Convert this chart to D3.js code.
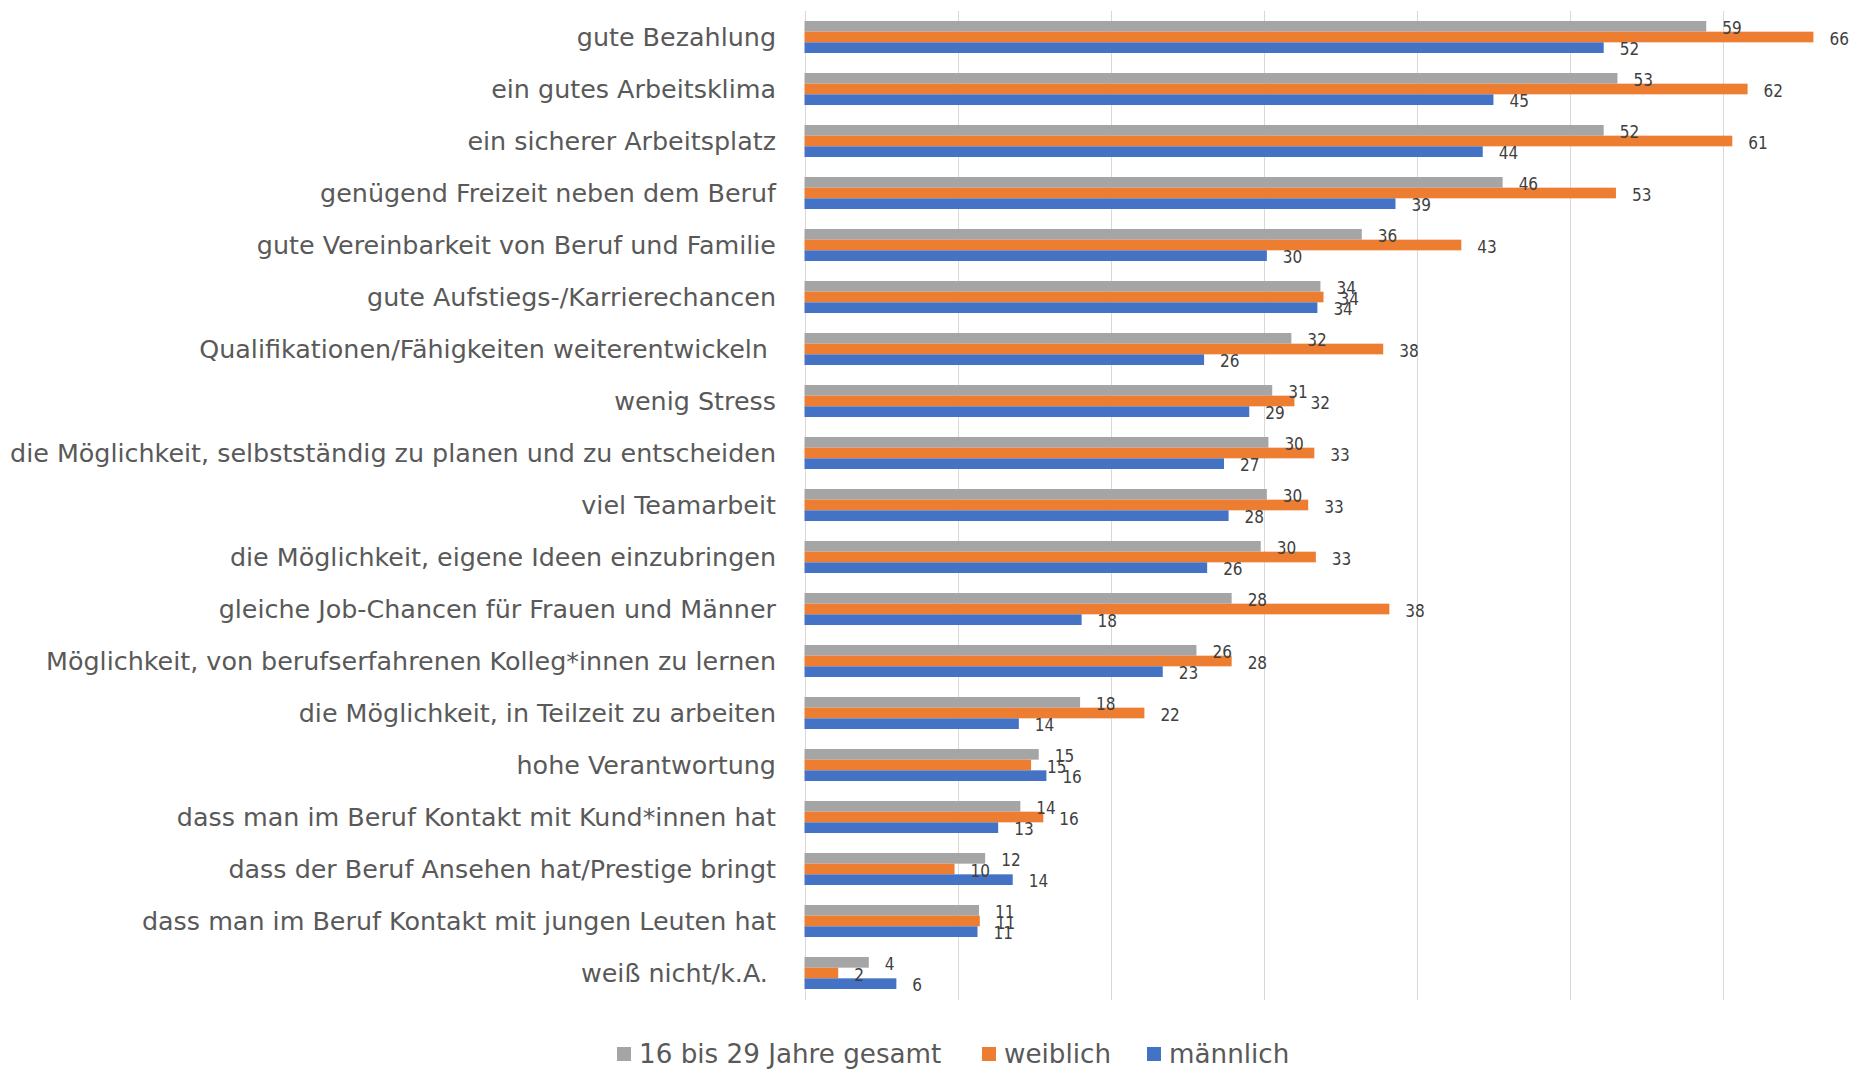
<!DOCTYPE html>
<html lang="de">
<head>
<meta charset="utf-8">
<title>Wichtige Aspekte im Beruf</title>
<style>
  body {margin: 0; background: #fff;}
  svg  {display: block;}
  .cat   {font-family: "DejaVu Sans", sans-serif; font-size: 25.4px; fill: #595959; white-space: pre;}
  .val   {font-family: "DejaVu Sans Condensed", "DejaVu Sans", sans-serif; font-size: 17px; fill: #404040;}
  .leg   {font-family: "DejaVu Sans", sans-serif; font-size: 26.2px; fill: #595959;}
  .grid line {stroke: #d9d9d9; stroke-width: 1;}
</style>
</head>
<body>
<svg id="chart" width="1870" height="1069"></svg>

<script src="https://d3js.org/d3.v7.min.js"></script>
<script>
// categories, top to bottom
const categories = [
  "gute Bezahlung",
  "ein gutes Arbeitsklima",
  "ein sicherer Arbeitsplatz",
  "genügend Freizeit neben dem Beruf",
  "gute Vereinbarkeit von Beruf und Familie",
  "gute Aufstiegs-/Karrierechancen",
  "Qualifikationen/Fähigkeiten weiterentwickeln ",
  "wenig Stress",
  "die Möglichkeit, selbstständig zu planen und zu entscheiden",
  "viel Teamarbeit",
  "die Möglichkeit, eigene Ideen einzubringen",
  "gleiche Job-Chancen für Frauen und Männer",
  "Möglichkeit, von berufserfahrenen Kolleg*innen zu lernen",
  "die Möglichkeit, in Teilzeit zu arbeiten",
  "hohe Verantwortung",
  "dass man im Beruf Kontakt mit Kund*innen hat",
  "dass der Beruf Ansehen hat/Prestige bringt",
  "dass man im Beruf Kontakt mit jungen Leuten hat",
  "weiß nicht/k.A. "
];

const seriesNames = ["16 bis 29 Jahre gesamt", "weiblich", "männlich"];
const seriesColors = ["#a5a5a5", "#ed7d31", "#4472c4"];

// percent values (labels are rounded)
const gesamt    = [58.9, 53.1, 52.2, 45.6, 36.4, 33.7, 31.8, 30.55, 30.3, 30.2, 29.8, 27.9, 25.6, 18.0, 15.3, 14.1, 11.8, 11.4, 4.2];
const weiblich  = [65.9, 61.6, 60.6, 53.0, 42.9, 33.9, 37.8, 32.0, 33.3, 32.9, 33.4, 38.2, 27.9, 22.2, 14.8, 15.6, 9.8, 11.45, 2.2];
const maennlich = [52.2, 45.0, 44.3, 38.6, 30.2, 33.5, 26.1, 29.05, 27.4, 27.7, 26.3, 18.1, 23.4, 14.0, 15.8, 12.65, 13.6, 11.3, 6.0];

const gridTicks = [0, 10, 20, 30, 40, 50, 60];

const series = [gesamt, weiblich, maennlich];

const svg = d3.select("#chart");

const x = d3.scaleLinear().domain([0, 70]).range([804.5, 804.5 + 70 * 15.31]);
const y = d3.scaleBand().domain(categories).range([11, 999]);
const yInner = d3.scaleBand().domain(d3.range(3)).range([10, y.bandwidth() - 10]);

// gridlines
svg.append("g").attr("class", "grid")
  .selectAll("line")
  .data(gridTicks)
  .join("line")
    .attr("x1", d => Math.round(x(d)) + 0.5)
    .attr("x2", d => Math.round(x(d)) + 0.5)
    .attr("y1", 11)
    .attr("y2", 1000);

// bars
const rows = svg.append("g")
  .selectAll("g")
  .data(categories)
  .join("g")
    .attr("transform", d => `translate(0,${y(d)})`);

rows.selectAll("rect")
  .data((d, i) => series.map((s, k) => ({k, v: s[i]})))
  .join("rect")
    .attr("x", x(0))
    .attr("y", d => yInner(d.k))
    .attr("width", d => x(d.v) - x(0))
    .attr("height", yInner.bandwidth())
    .attr("fill", d => seriesColors[d.k]);

rows.selectAll("text.val")
  .data((d, i) => series.map((s, k) => ({k, v: s[i]})))
  .join("text")
    .attr("class", "val")
    .attr("x", d => x(d.v) + 16)
    .attr("y", d => yInner(d.k) + yInner.bandwidth() / 2 + 1.5)
    .attr("dy", "0.36em")
    .text(d => d3.format(".0f")(d.v));

// category labels
svg.append("g")
  .selectAll("text")
  .data(categories)
  .join("text")
    .attr("class", "cat")
    .attr("x", 776)
    .attr("y", d => y(d) + y.bandwidth() / 2)
    .attr("dy", "0.35em")
    .attr("text-anchor", "end")
    .text(d => d);

// legend
const legendX = [617, 982, 1147];
const leg = svg.append("g")
  .selectAll("g")
  .data(seriesNames)
  .join("g")
    .attr("transform", (d, i) => `translate(${legendX[i]},1047)`);

leg.append("rect")
  .attr("width", 14).attr("height", 14)
  .attr("fill", (d, i) => seriesColors[i]);

leg.append("text")
  .attr("class", "leg")
  .attr("x", 22)
  .attr("y", 7)
  .attr("dy", "0.35em")
  .text(d => d);
</script>
</body>
</html>
